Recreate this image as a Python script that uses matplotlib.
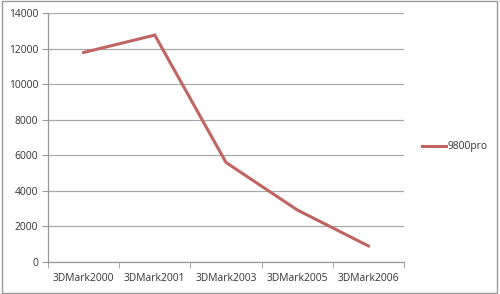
import matplotlib
matplotlib.use("Agg")
import matplotlib.pyplot as plt
from matplotlib.patches import Rectangle

categories = ["3DMark2000", "3DMark2001", "3DMark2003", "3DMark2005", "3DMark2006"]
series_name = "9800pro"
values = [11790, 12770, 5600, 2930, 900]
yticks = [0, 2000, 4000, 6000, 8000, 10000, 12000, 14000]

plt.rcParams['font.family'] = ['Open Sans', 'DejaVu Sans']
fig = plt.figure(figsize=(5.0, 2.94), dpi=100)
ax = fig.add_axes([0.096, 0.109, 0.712, 0.846])

x = list(range(len(categories)))
ax.plot(x, values, color='#C06462', lw=2.2, solid_joinstyle='miter', label=series_name)

ax.set_xlim(-0.5, len(categories) - 0.5)
ax.set_ylim(0, 14000)
ax.set_yticks(yticks)
ax.set_yticklabels([str(v) for v in yticks])
ax.set_xticks(x)
ax.set_xticklabels(categories)
ax.set_xticks([i - 0.5 for i in range(len(categories) + 1)], minor=True)
ax.tick_params(axis='x', which='major', length=0, pad=8, labelsize=7.4, colors='#333333')
ax.tick_params(axis='x', which='minor', length=4, color='#999999', direction='out')
ax.tick_params(axis='y', length=4, color='#999999', pad=3, labelsize=7.4, labelcolor='#333333')

ax.grid(axis='y', color='#A8A8A8', lw=0.9)
ax.set_axisbelow(True)
for s in ['top', 'right']:
    ax.spines[s].set_visible(False)
for s in ['left', 'bottom']:
    ax.spines[s].set_color('#999999')
    ax.spines[s].set_linewidth(0.9)

fig.legend(loc='center left', bbox_to_anchor=(0.825, 0.5), frameon=False,
           fontsize=7.4, handlelength=2.4, handletextpad=0.1, labelcolor='#333333')

fig.patches.append(Rectangle((0.004, 0.005), 0.99, 0.99, transform=fig.transFigure,
                             fill=False, edgecolor='#9A9A9A', lw=1.0))

fig.savefig("out.png", dpi=100)
